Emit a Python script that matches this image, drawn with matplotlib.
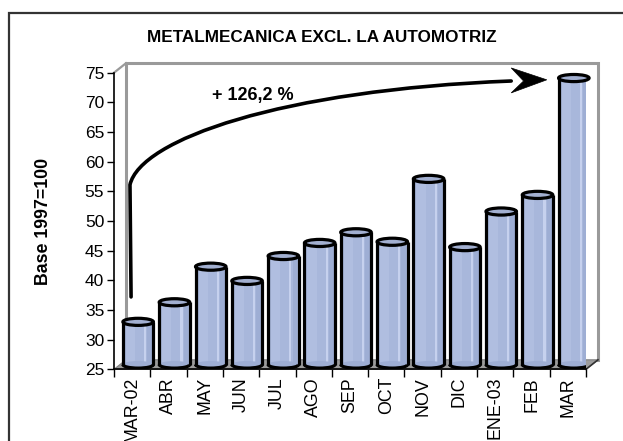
import matplotlib.pyplot as plt
import numpy as np
from matplotlib.patches import Ellipse, Polygon, Rectangle, PathPatch, Arc
from matplotlib.path import Path

# datos
categories = ['MAR-02', 'ABR', 'MAY', 'JUN', 'JUL', 'AGO', 'SEP',
              'OCT', 'NOV', 'DIC', 'ENE-03', 'FEB', 'MAR']
values = [32.2, 35.5, 41.5, 39.1, 43.3, 45.5, 47.3, 45.7, 56.3, 44.8, 50.8, 53.6, 73.3]
y_ticks = [25, 30, 35, 40, 45, 50, 55, 60, 65, 70, 75]
title = 'METALMECANICA EXCL. LA AUTOMOTRIZ'
ylabel = 'Base 1997=100'
growth_label = '+ 126,2 %'

plt.rcParams['font.family'] = ['Liberation Sans', 'DejaVu Sans']

W, H = 623, 441
fig = plt.figure(figsize=(W / 100, H / 100), dpi=100)
ax = fig.add_axes([114 / W, 1 - 369.3 / H, 472 / W, (369.3 - 72.7) / H])

n = len(categories)
x = np.arange(n)
ymin, ymax = y_ticks[0], y_ticks[-1]
ax.set_xlim(-0.5, n - 0.5)
ax.set_ylim(ymin, ymax)

# profundidad del efecto 3D (en unidades de datos)
ddx, ddy = 0.33, 1.6
x0, x1 = -0.5, n - 0.5

# pared y piso
wall = '#9a9a9a'
ax.plot([x0, x0 + ddx], [ymax, ymax + ddy], color=wall, lw=1.6, clip_on=False, zorder=1)
ax.plot([x0 + ddx, x0 + ddx, x1 + ddx, x1 + ddx],
        [ymin + ddy, ymax + ddy, ymax + ddy, ymin + ddy],
        color=wall, lw=2.2, clip_on=False, zorder=1, solid_joinstyle='miter')
floor = Polygon([[x0, ymin], [x1, ymin], [x1 + ddx, ymin + ddy], [x0 + ddx, ymin + ddy]],
                closed=True, facecolor='#9c9c9c', edgecolor='#808080', lw=0.8,
                clip_on=False, zorder=2)
ax.add_patch(floor)
ax.plot([x1, x1 + ddx], [ymin, ymin + ddy], color='#333333', lw=1.2, clip_on=False, zorder=3)

# cilindros
bw = 0.84
eh = 1.2
base_c = '#a8b7db'
xc = x + ddx / 2
bot = ymin + ddy / 2
tops = np.array(values) + ddy / 2
hgt = tops - bot
ax.bar(xc, hgt, bottom=bot, width=bw, color=base_c, edgecolor='none', zorder=4)
ax.bar(xc - bw * 0.25, hgt, bottom=bot, width=bw * 0.3, color='#b0bee0',
       edgecolor='none', zorder=4)
ax.bar(xc + bw * 0.23, hgt, bottom=bot, width=bw * 0.07, color='#c6d1ee',
       edgecolor='none', zorder=4)
ax.bar(xc + bw * 0.38, hgt, bottom=bot, width=bw * 0.16, color='#9eaed4',
       edgecolor='none', zorder=4)
for xi, t in zip(xc, tops):
    ax.add_patch(Ellipse((xi, bot), bw, eh, facecolor='#9eaed4', edgecolor='none', zorder=4))
    ax.add_patch(Arc((xi, bot), bw, eh, theta1=180, theta2=360, color='black', lw=2.3, zorder=5))
    ax.vlines([xi - bw / 2, xi + bw / 2], bot, t, color='black', lw=2.3, zorder=5)
    ax.add_patch(Ellipse((xi, t), bw, eh, facecolor='#a2afd0', edgecolor='black',
                         lw=2.3, zorder=6, clip_on=False))

# ejes
for s in ['top', 'right']:
    ax.spines[s].set_visible(False)
ax.spines['left'].set_linewidth(1.2)
ax.spines['bottom'].set_linewidth(1.2)
ax.spines['left'].set_zorder(3)
ax.spines['bottom'].set_zorder(3)
ax.set_yticks(y_ticks)
ax.set_yticklabels([str(v) for v in y_ticks], fontsize=12.5)
ax.tick_params(axis='y', direction='out', length=5, width=1, pad=2)
ax.set_xticks(np.arange(n + 1) - 0.5)
ax.set_xticklabels([])
ax.tick_params(axis='x', which='major', direction='out', length=6, width=1)
ax.set_xticks(x, minor=True)
ax.set_xticklabels(categories, minor=True, rotation=90, fontsize=12.8, va='top')
ax.tick_params(axis='x', which='minor', length=0, pad=5.5)
ax.patch.set_visible(False)

# flecha de crecimiento
verts = [(-0.03, values[0] + 5.0), (-0.06, 56.1), (0.218, 63.7), (4.09, 72.1), (10.44, 73.6)]
codes = [Path.MOVETO, Path.LINETO, Path.CURVE4, Path.CURVE4, Path.CURVE4]
ax.add_patch(PathPatch(Path(verts, codes), facecolor='none', edgecolor='black',
                       lw=2.6, capstyle='round', clip_on=False, zorder=7))
head = Polygon([[11.42, 73.8], [10.44, 75.8], [10.78, 73.6], [10.44, 71.6]], closed=True,
               facecolor='black', edgecolor='black', lw=0.5, clip_on=False, zorder=7)
ax.add_patch(head)
ax.text(3.31, 71.1, growth_label, fontsize=13, fontweight='bold', ha='center', va='center')

fig.text(322 / W, 1 - 37 / H, title, fontsize=12.3, fontweight='bold', ha='center', va='center')
fig.text(43 / W, 1 - 221 / H, ylabel, fontsize=12.8, fontweight='bold', rotation=90,
         ha='center', va='center')

# marco exterior
fig.add_artist(Rectangle((9 / W, -0.5), 2, 1 - 13 / H + 0.5, transform=fig.transFigure,
                         fill=False, edgecolor='#333333', lw=1.6))

fig.savefig('out.png', dpi=100)
